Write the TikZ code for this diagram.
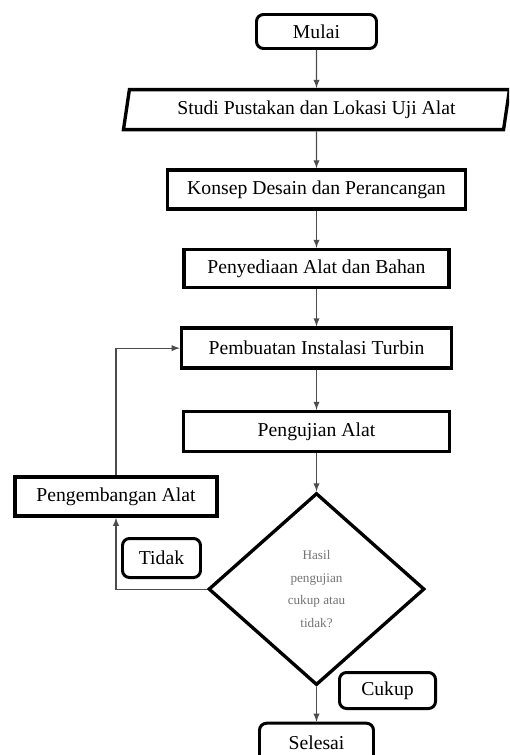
\documentclass[tikz,border=0pt]{standalone}
\usepackage{fontspec}
\setmainfont{Liberation Serif}
\usetikzlibrary{
    arrows.meta,
    positioning,
    shapes.geometric,
}
\tikzstyle{terminal}=[draw,rectangle,rounded corners=4pt,line width=1.7pt,inner sep=1mm]
\tikzstyle{process}=[draw,rectangle,line width=2pt,inner sep=1mm]
\tikzstyle{inout}=[draw,trapezium,trapezium left angle=78,trapezium right angle=102,trapezium stretches body,line width=1.9pt,inner sep=1mm]
\tikzstyle{decision}=[draw,diamond,line width=1.9pt,inner sep=0mm,text=black!55,align=center,font=\fontsize{7.5}{12.8}\selectfont]
\tikzset{
    >=latex,
    every node/.style={font=\fontsize{11.2}{13.4}\selectfont},
    flow/.style={->,black!70,line width=0.6pt}
}

\begin{document}
\begin{tikzpicture}
    \useasboundingbox (0,0) rectangle (10.18,-15.1);
    \clip (0,0) rectangle (10.18,-15.1);

    % Main column
    \node[terminal,minimum width=2.4cm,minimum height=0.68cm] (Mulai) at (6.33,-0.63) {Mulai};
    \node[inout,below=7.6mm of Mulai,minimum width=7.72cm,minimum height=0.8cm] (Studi) {Studi Pustakan dan Lokasi Uji Alat};
    \node[process,below=7.4mm of Studi,minimum width=5.96cm,minimum height=0.78cm] (Konsep) {Konsep Desain dan Perancangan};
    \node[process,below=7.4mm of Konsep,minimum width=5.3cm,minimum height=0.76cm] (Penyediaan) {Penyediaan Alat dan Bahan};
    \node[process,below=7.4mm of Penyediaan,minimum width=5.4cm,minimum height=0.8cm] (Pembuatan) {Pembuatan Instalasi Turbin};
    \node[process,below=8mm of Pembuatan,minimum width=5.32cm,minimum height=0.8cm] (Pengujian) {Pengujian Alat};
    \node[decision,below=7.6mm of Pengujian,minimum width=4.32cm,minimum height=3.84cm] (Hasil) {Hasil\\pengujian\\cukup atau\\tidak?};
    \node[terminal,below=7mm of Hasil,minimum width=2.28cm,minimum height=0.8cm] (Selesai) {Selesai};

    % Side branch
    \node[process,minimum width=4.04cm,minimum height=0.78cm] (Pengembangan) at (2.32,-9.93) {Pengembangan Alat};
    \node[terminal,minimum width=1.56cm,minimum height=0.78cm] (Tidak) at (3.23,-11.16) {Tidak};
    \node[terminal,minimum width=1.92cm,minimum height=0.72cm] (Cukup) at (7.75,-13.81) {Cukup};

    \draw[flow] (Mulai) -- (Studi);
    \draw[flow] (Studi) -- (Konsep);
    \draw[flow] (Konsep) -- (Penyediaan);
    \draw[flow] (Penyediaan) -- (Pembuatan);
    \draw[flow] (Pembuatan) -- (Pengujian);
    \draw[flow] (Pengujian) -- (Hasil);
    \draw[flow] (Hasil) -- (Selesai);
    \draw[flow] (Hasil.west) -| (Pengembangan.south);
    \draw[flow] (Pengembangan.north) |- (Pembuatan.west);
\end{tikzpicture}
\end{document}
